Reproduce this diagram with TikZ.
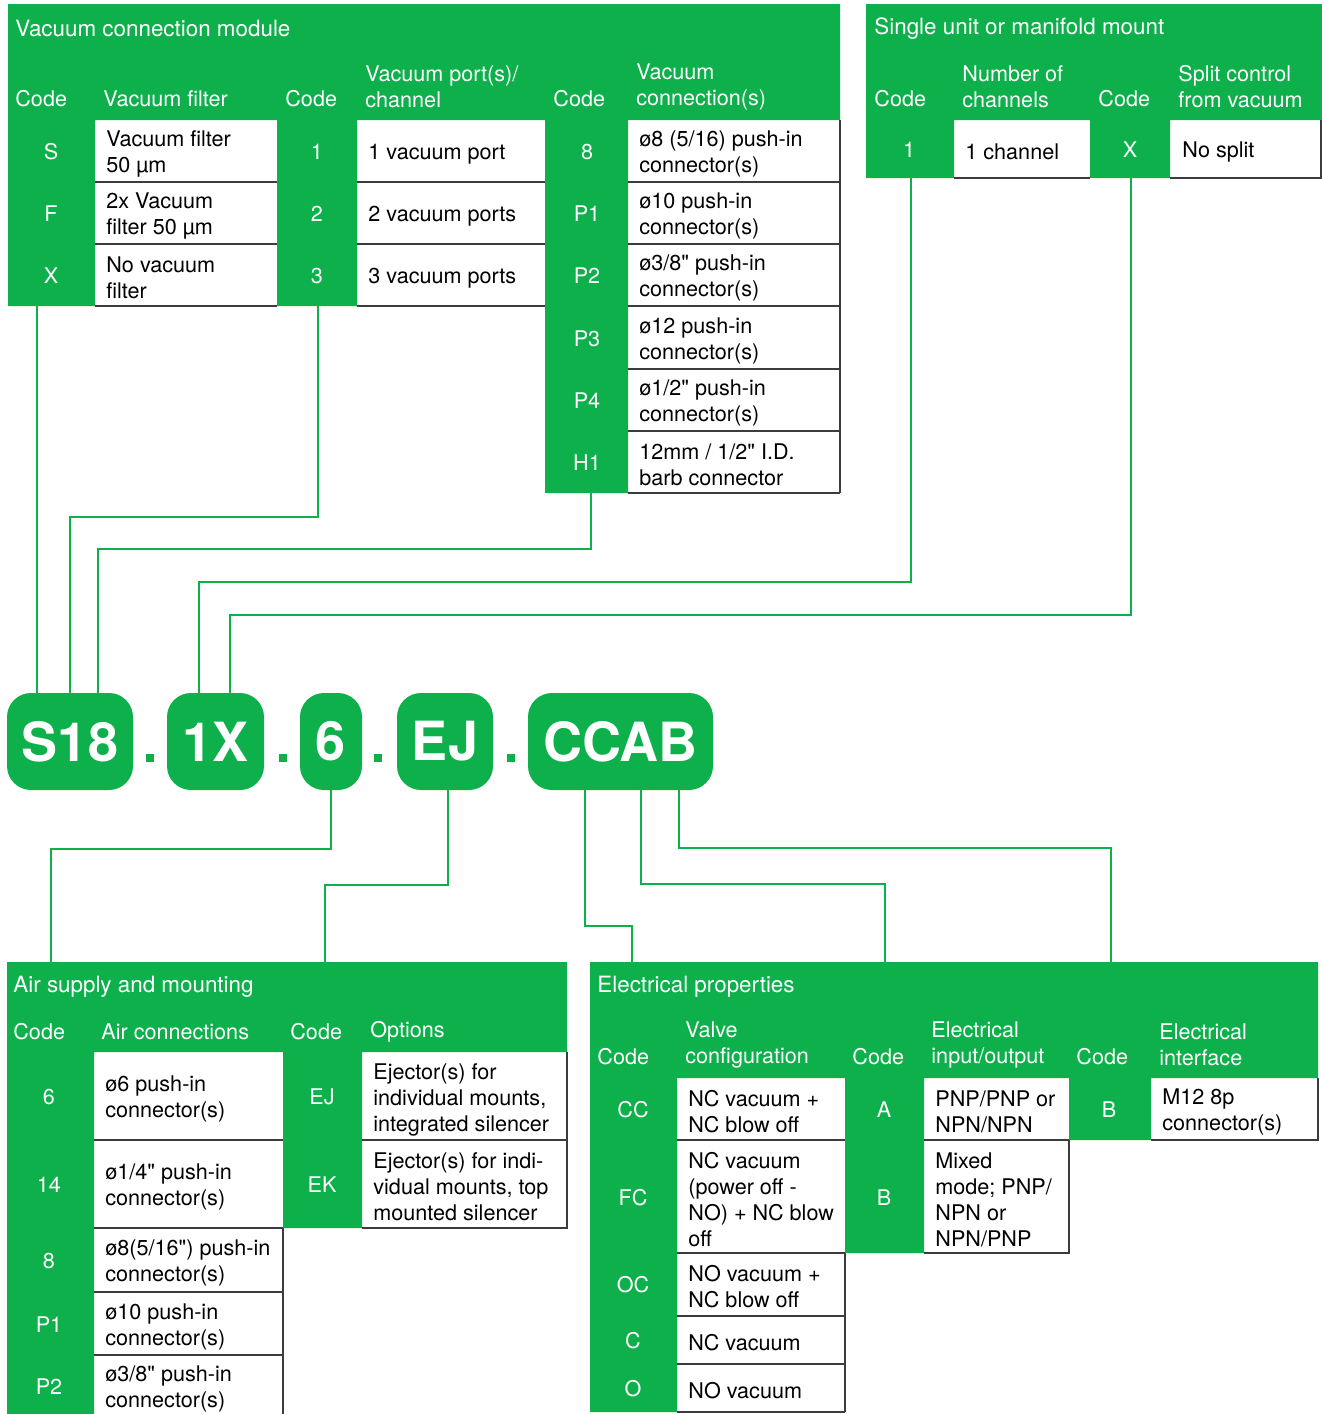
\documentclass[tikz,border=0pt]{standalone}
\usepackage{fontspec}
\setmainfont{TeX Gyre Heros}[Ligatures=TeXOff]
\definecolor{sgreen}{RGB}{13,176,75}
\definecolor{cellrule}{RGB}{60,60,60}
\newcommand\cellfont{\fontsize{10.8}{13}\selectfont}
\newcommand\titlefont{\fontsize{11.2}{13}\selectfont}
\newcommand\badgefont{\fontsize{27}{27}\selectfont\bfseries}
\tikzset{
  hd/.style={anchor=west,inner sep=0pt,text=white,font=\cellfont,align=left,yshift=-0.75pt},
  ttl/.style={hd,font=\titlefont},
  codetxt/.style={inner sep=0pt,text=white,font=\cellfont,yshift=-0.5pt},
  txt/.style={anchor=west,inner sep=0pt,font=\cellfont,align=left,yshift=-1.5pt},
  link/.style={draw=sgreen,line width=1pt},
  cellline/.style={draw=cellrule,line width=0.6pt},
  badge/.style={fill=sgreen,rounded corners=12pt,text=white,font=\badgefont,
    minimum height=48.5pt,inner sep=0pt},
}
\begin{document}
\begin{tikzpicture}[x=0.5pt,y=-0.5pt]
\useasboundingbox (0,0) rectangle (1322,1414);
% where the links leave the tables
\coordinate (vfcol) at (37,306);
\coordinate (pcol) at (318,306);
\coordinate (vccol) at (591,493);
\coordinate (chcol) at (911,178);
\coordinate (spcol) at (1131,178);
\coordinate (aircol) at (51,962);
\coordinate (optcol) at (325,962);
\coordinate (valcol) at (632,962);
\coordinate (iocol) at (885,962);
\coordinate (ifcol) at (1111,962);
% where the links meet the code badges
\coordinate (s18a) at (37,693);
\coordinate (s18b) at (70,693);
\coordinate (s18c) at (98,693);
\coordinate (oxa) at (199,693);
\coordinate (oxb) at (230,693);
\coordinate (sixa) at (331,790);
\coordinate (eja) at (448,790);
\coordinate (ccaba) at (585,790);
\coordinate (ccabb) at (641,790);
\coordinate (ccabc) at (679,790);
% links
\draw[link] (vfcol) -- (s18a);
\draw[link] (pcol) -- ++(0,211) -| (s18b);
\draw[link] (vccol) -- ++(0,56) -| (s18c);
\draw[link] (chcol) -- ++(0,404) -| (oxa);
\draw[link] (spcol) -- ++(0,437) -| (oxb);
\draw[link] (sixa) -- ++(0,59) -| (aircol);
\draw[link] (eja) -- ++(0,95) -| (optcol);
\draw[link] (ccaba) -- ++(0,136) -| (valcol);
\draw[link] (ccabb) -- ++(0,94) -| (iocol);
\draw[link] (ccabc) -- ++(0,58) -| (ifcol);

% Vacuum connection module
\fill[sgreen] (8,4) rectangle (840,120) (8,120) rectangle (95,306)
  (277,120) rectangle (357,306) (545,120) rectangle (628,493);
\foreach \y in {182,244,306}
  \draw[cellline] (95,\y) -- (277,\y) (357,\y) -- (545,\y);
\foreach \y in {182,244,306,369,431,493}
  \draw[cellline] (628,\y) -- (840,\y);
\draw[cellline] (840,120) -- (840,493);
\node[ttl] (vcm) at (15,27) {Vacuum connection module};
\node[hd] (vcmc1) at (15,97) {Code};
\node[hd] (vcmh1) at (103,97) {Vacuum filter};
\node[hd] (vcmc2) at (285,97) {Code};
\node[hd] (vcmh2) at (365,85) {Vacuum port(s)/\\channel};
\node[hd] (vcmc3) at (553,97) {Code};
\node[hd] (vcmh3) at (636,85) {Vacuum\\connection(s)};
\foreach \c/\y [count=\i] in {S/151,F/213,X/275}
  \node[codetxt] (vf\i) at (51,\y) {\c};
\foreach \c/\y [count=\i] in {1/151,2/213,3/275}
  \node[codetxt] (vp\i) at (317,\y) {\c};
\foreach \c/\y [count=\i] in {8/151,P1/213,P2/275,P3/338,P4/400,H1/462}
  \node[codetxt] (vc\i) at (587,\y) {\c};
\node[txt] (vft1) at (106,151) {Vacuum filter\\50 µm};
\node[txt] (vft2) at (106,213) {2x Vacuum\\filter 50 µm};
\node[txt] (vft3) at (106,275) {No vacuum\\filter};
\node[txt] (vpt1) at (368,151) {1 vacuum port};
\node[txt] (vpt2) at (368,213) {2 vacuum ports};
\node[txt] (vpt3) at (368,275) {3 vacuum ports};
\node[txt] (vct1) at (639,151) {ø8 (5/16) push-in\\connector(s)};
\node[txt] (vct2) at (639,213) {ø10 push-in\\connector(s)};
\node[txt] (vct3) at (639,275) {ø3/8" push-in\\connector(s)};
\node[txt] (vct4) at (639,338) {ø12 push-in\\connector(s)};
\node[txt] (vct5) at (639,400) {ø1/2" push-in\\connector(s)};
\node[txt] (vct6) at (639,462) {12mm / 1/2" I.D.\\barb connector};

% Single unit or manifold mount
\fill[sgreen] (866,4) rectangle (1322,120) (866,120) rectangle (954,178)
  (1090,120) rectangle (1170,178);
\draw[cellline] (954,178) -- (1090,178) (1170,178) -- (1321,178) -- (1321,120);
\node[ttl] (sum) at (874,27) {Single unit or manifold mount};
\node[hd] (sumc1) at (874,97) {Code};
\node[hd] (sumh1) at (962,85) {Number of\\channels};
\node[hd] (sumc2) at (1098,97) {Code};
\node[hd] (sumh2) at (1178,85) {Split control\\from vacuum};
\node[codetxt] (ch1) at (909,149) {1};
\node[codetxt] (sp1) at (1130,149) {X};
\node[txt] (cht1) at (965,149) {1 channel};
\node[txt] (spt1) at (1182,149) {No split};

% Air supply and mounting
\fill[sgreen] (7,962) rectangle (567,1052) (7,1052) rectangle (94,1414)
  (283,1052) rectangle (362,1228);
\foreach \y in {1140,1228,1292,1355}
  \draw[cellline] (94,\y) -- (283,\y);
\draw[cellline] (283,1228) -- (283,1414);
\draw[cellline] (362,1140) -- (567,1140) (362,1228) -- (567,1228) -- (567,1052);
\node[ttl] (asm) at (13,985) {Air supply and mounting};
\node[hd] (asmc1) at (13,1030) {Code};
\node[hd] (asmh1) at (101,1030) {Air connections};
\node[hd] (asmc2) at (290,1030) {Code};
\node[hd] (asmh2) at (370,1030) {Options};
\foreach \c/\y [count=\i] in {6/1096,14/1184,8/1260,P1/1324,P2/1386}
  \node[codetxt] (ac\i) at (49,\y) {\c};
\node[codetxt] (op1) at (322,1096) {EJ};
\node[codetxt] (op2) at (322,1184) {EK};
\node[txt] (act1) at (105,1096) {ø6 push-in\\connector(s)};
\node[txt] (act2) at (105,1184) {ø1/4" push-in\\connector(s)};
\node[txt] (act3) at (105,1260) {ø8(5/16") push-in\\connector(s)};
\node[txt] (act4) at (105,1324) {ø10 push-in\\connector(s)};
\node[txt] (act5) at (105,1386) {ø3/8" push-in\\connector(s)};
\node[txt] (opt1) at (373,1097) {Ejector(s) for\\individual mounts,\\integrated silencer};
\node[txt] (opt2) at (373,1184) {Ejector(s) for indi-\\vidual mounts, top\\mounted silencer};

% Electrical properties
\fill[sgreen] (590,962) rectangle (1318,1078) (590,1078) rectangle (677,1412)
  (845,1078) rectangle (924,1253) (1069,1078) rectangle (1151,1140);
\foreach \y in {1140,1253,1316,1364,1412}
  \draw[cellline] (677,\y) -- (845,\y);
\draw[cellline] (845,1253) -- (845,1412);
\draw[cellline] (924,1140) -- (1069,1140) (924,1253) -- (1069,1253) -- (1069,1140);
\draw[cellline] (1151,1140) -- (1318,1140) -- (1318,1078);
\node[ttl] (elp) at (597,985) {Electrical properties};
\node[hd] (elpc1) at (597,1055) {Code};
\node[hd] (elph1) at (685,1043) {Valve\\configuration};
\node[hd] (elpc2) at (852,1055) {Code};
\node[hd] (elph2) at (931,1043) {Electrical\\input/output};
\node[hd] (elpc3) at (1076,1055) {Code};
\node[hd] (elph3) at (1159,1043) {Electrical\\interface};
\foreach \c/\y [count=\i] in {CC/1109,FC/1197,OC/1284,C/1340,O/1388}
  \node[codetxt] (vl\i) at (633,\y) {\c};
\node[codetxt] (io1) at (884,1109) {A};
\node[codetxt] (io2) at (884,1197) {B};
\node[codetxt] (if1) at (1109,1109) {B};
\node[txt] (vlt1) at (688,1109) {NC vacuum +\\NC blow off};
\node[txt] (vlt2) at (688,1197) {NC vacuum\\(power off -\\NO) + NC blow\\off};
\node[txt] (vlt3) at (688,1284) {NO vacuum +\\NC blow off};
\node[txt] (vlt4) at (688,1340) {NC vacuum};
\node[txt] (vlt5) at (688,1388) {NO vacuum};
\node[txt] (iot1) at (935,1109) {PNP/PNP or\\NPN/NPN};
\node[txt] (iot2) at (935,1197) {Mixed\\mode; PNP/\\NPN or\\NPN/PNP};
\node[txt] (ift1) at (1162,1109) {M12 8p\\connector(s)};

% code badges
\node[badge,minimum width=63pt] (s18) at (70,741.5) {S18};
\node[badge,minimum width=48.5pt] (ox) at (215.5,741.5) {1X};
\node[badge,minimum width=31pt] (six) at (331,741.5) {6};
\node[badge,minimum width=48pt] (ej) at (445,741.5) {EJ};
\node[badge,minimum width=92.5pt] (ccab) at (620.5,741.5) {CCAB};
\foreach \x in {146,279,374,507}
  \fill[sgreen] (\x,754) rectangle ++(8,8);
\end{tikzpicture}
\end{document}
